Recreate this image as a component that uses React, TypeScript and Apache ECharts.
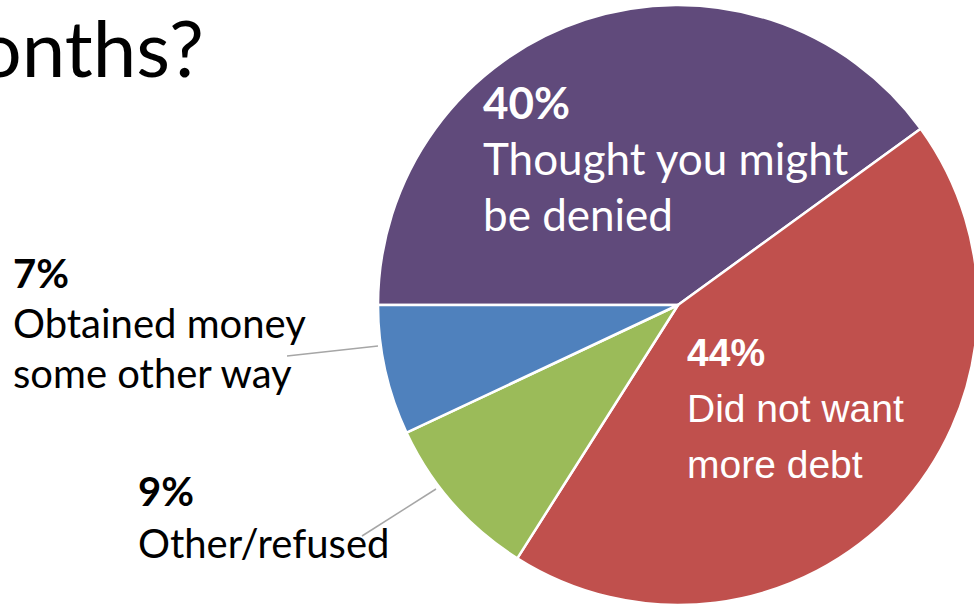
import React, { useEffect, useRef } from "react";
import * as echarts from "echarts";

const categories = [
  "Thought you might\nbe denied",
  "Did not want\nmore debt",
  "Other/refused",
  "Obtained money\nsome other way",
];
const shares = [40, 44, 9, 7];
const titleText = "onths?";

const palette = ["#604A7B", "#C0504D", "#9BBB59", "#4F81BD"];
const CAL = "Lato, 'Noto Sans', sans-serif";
const ARIAL = "'Liberation Sans', Arial, sans-serif";

// label placement (layout only)
const labelPlace = [
  { x: 483, y: 74, inside: true },
  { x: 687, y: 324, inside: true },
  { x: 138, y: 465, inside: false, line: [[436, 489], [362, 536]] },
  { x: 13, y: 248, inside: false, line: [[378, 346], [287, 356]] },
];

export default function App() {
  const ref = useRef<HTMLDivElement>(null);
  useEffect(() => {
    document.body.style.margin = "0";
    const chart = echarts.init(ref.current!, null, { renderer: "svg" });
    const richFor = (i: number) => {
      if (i === 0)
        return {
          p: { fontFamily: CAL, fontSize: 44, fontWeight: "bold", color: "#fff", lineHeight: 56 },
          n: { fontFamily: CAL, fontSize: 44, color: "#fff", lineHeight: 56 },
        };
      if (i === 1)
        return {
          p: { fontFamily: ARIAL, fontSize: 39, fontWeight: "bold", color: "#fff", lineHeight: 56 },
          n: { fontFamily: ARIAL, fontSize: 39, color: "#fff", lineHeight: 56 },
        };
      const lh = i === 2 ? 52 : 50;
      return {
        p: { fontFamily: CAL, fontSize: 40, fontWeight: "bold", color: "#000", lineHeight: lh },
        n: { fontFamily: CAL, fontSize: 40, color: "#000", lineHeight: lh },
      };
    };
    const data = shares.map((v, i) => ({
      value: v,
      name: categories[i],
      itemStyle: { color: palette[i] },
      label: {
        show: true,
        position: labelPlace[i].inside ? "inside" : "outside",
        formatter: (p: any) => `{p|${p.value}%}\n{n|${p.name}}`,
        rich: richFor(i),
        align: "left",
      },
      labelLine: {
        show: !labelPlace[i].inside,
        lineStyle: { color: "#A6A6A6", width: 1.5 },
      },
    }));
    chart.setOption({
      animation: false,
      backgroundColor: "#ffffff",
      graphic: [
        {
          type: "text",
          right: 974 - 204,
          top: 8,
          style: {
            text: titleText,
            font: "78px " + CAL,
            fill: "#000",
            textAlign: "right",
          },
        },
      ],
      series: [
        {
          type: "pie",
          center: [678, 305],
          radius: 300,
          startAngle: 180,
          clockwise: true,
          avoidLabelOverlap: false,
          itemStyle: { borderColor: "#fff", borderWidth: 2.5 },
          emphasis: { disabled: true },
          data,
          labelLayout: (params: any) => {
            const pl = labelPlace[params.dataIndex];
            const out: any = { x: pl.x, y: pl.y, align: "left", verticalAlign: "top" };
            if (pl.line) out.labelLinePoints = pl.line;
            return out;
          },
        },
      ],
    });
    return () => chart.dispose();
  }, []);
  return (
    <div
      ref={ref}
      style={{ position: "fixed", left: 0, top: 0, width: 974, height: 604 }}
    />
  );
}
